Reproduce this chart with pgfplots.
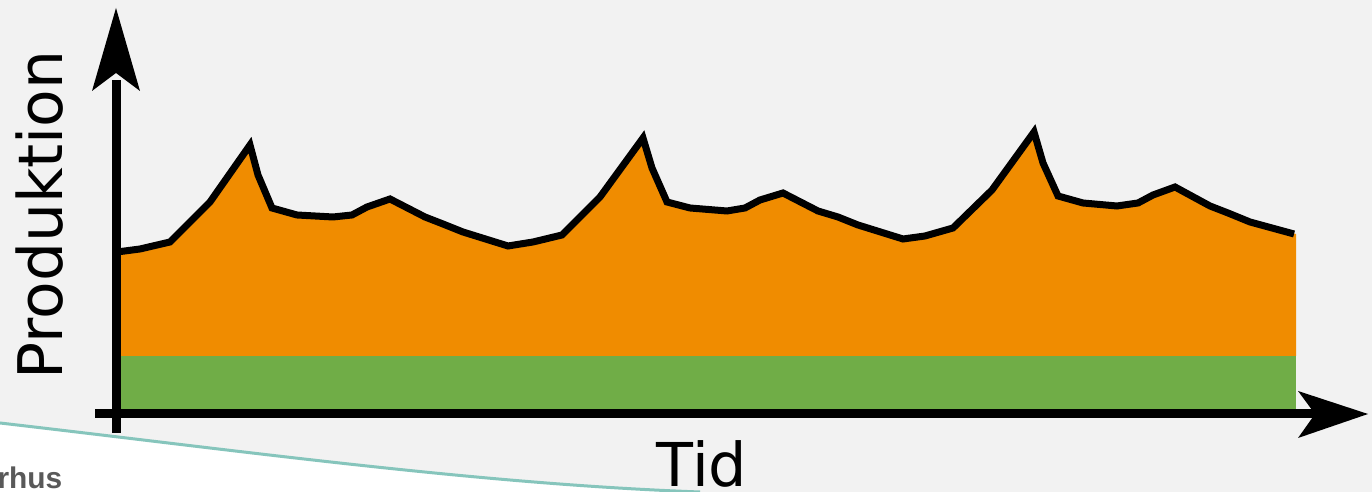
\documentclass[border=0pt]{standalone}
\usepackage{fontspec}
\setmainfont{DejaVu Sans}
\newfontfamily\libsans{Liberation Sans}
\usepackage{pgfplots}
\pgfplotsset{compat=1.18}

\definecolor{bggray}{HTML}{F2F2F2}
\definecolor{prodorange}{HTML}{F08C00}
\definecolor{basegreen}{HTML}{70AD47}
\definecolor{slideteal}{HTML}{86C5BC}
\definecolor{logogray}{HTML}{595959}

\begin{document}
\begin{tikzpicture}
% slide background (1 px = 0.1 mm)
\fill[bggray] (0,0) rectangle (13.72,4.92);
\fill[white] (0,0) -- (0,0.69) .. controls (2.5,0.40) and (4.8,0.08) .. (7.0,0) -- cycle;
\draw[slideteal, line width=0.3mm] (0,0.69) .. controls (2.5,0.40) and (4.8,0.08) .. (7.0,0);

\begin{axis}[
    at={(0,0)}, anchor=south west,
    scale only axis,
    width=13.72cm, height=4.92cm,
    xmin=0, xmax=1372,
    ymin=0, ymax=492,
    y dir=reverse,
    hide axis,
    clip=false,
]

% fast grundproduktion
\addplot[fill=basegreen, draw=none] coordinates {
    (117,356) (1296,356) (1296,410) (117,410)
} -- cycle;

% varierende produktion
\addplot[fill=prodorange, draw=none] coordinates {
    (117,356) (117,252) (140,249) (170,242) (210,202) (250,145) (258,175)
    (272,208) (297,215) (333,217) (352,215) (367,207) (390,199) (425,217)
    (443,224) (463,232) (508,246) (533,242) (562,235) (600,197) (643,138)
    (652,168) (667,202) (690,208) (727,211) (745,208) (760,200) (783,193)
    (818,211) (838,217) (858,225) (903,239) (925,236) (953,228) (992,190)
    (1034,132) (1043,163) (1058,196) (1083,203) (1117,206) (1138,203)
    (1153,195) (1175,187) (1210,206) (1228,213) (1250,222) (1296,234)
    (1296,356)
} -- cycle;

\addplot[black, line width=0.7mm, line join=miter] coordinates {
    (117,252) (140,249) (170,242) (210,202) (250,145) (258,175)
    (272,208) (297,215) (333,217) (352,215) (367,207) (390,199) (425,217)
    (443,224) (463,232) (508,246) (533,242) (562,235) (600,197) (643,138)
    (652,168) (667,202) (690,208) (727,211) (745,208) (760,200) (783,193)
    (818,211) (838,217) (858,225) (903,239) (925,236) (953,228) (992,190)
    (1034,132) (1043,163) (1058,196) (1083,203) (1117,206) (1138,203)
    (1153,195) (1175,187) (1210,206) (1228,213) (1250,222) (1294,234)
};

% akser med pilespidser
\draw[black, line width=0.9mm] (axis cs:116,433) -- (axis cs:116,80);
\fill[black] (axis cs:116,8) -- (axis cs:140,91) -- (axis cs:116,73)
    -- (axis cs:92,91) -- cycle;
\draw[black, line width=0.9mm] (axis cs:95,414) -- (axis cs:1320,414);
\fill[black] (axis cs:1368,414) -- (axis cs:1298,438) -- (axis cs:1315,414)
    -- (axis cs:1298,391) -- cycle;

\node[rotate=90, anchor=base, font=\fontsize{17.5}{20}\selectfont]
    at (axis cs:62,215) {Produktion};
\node[anchor=base, font=\fontsize{17.2}{20}\selectfont]
    at (axis cs:702,487) {Tid};
\node[anchor=base east, text=logogray, font=\libsans\bfseries\fontsize{8.5}{10}\selectfont, inner sep=0pt]
    at (axis cs:63,489) {Aarhus};
\end{axis}
\pgfresetboundingbox
\path (0,0) rectangle (13.72,4.92);
\end{tikzpicture}
\end{document}
